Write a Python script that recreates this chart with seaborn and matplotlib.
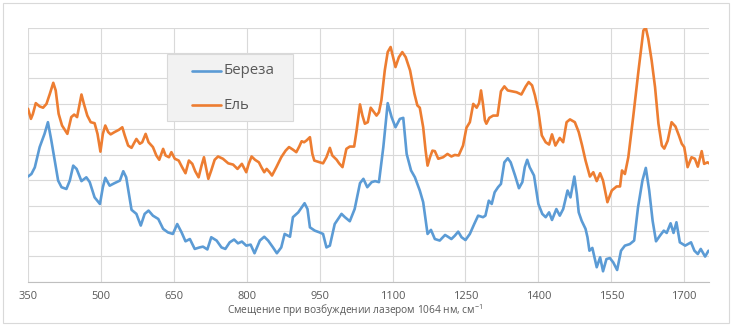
import matplotlib
matplotlib.use("Agg")
import matplotlib.pyplot as plt
from matplotlib.patches import Rectangle
import seaborn as sns
import pandas as pd

# Raman shift (cm^-1) and relative intensity for birch
birch_x = [350, 357, 364, 374, 384, 391, 398, 405, 412, 419, 429, 436, 443, 450, 460, 470, 477, 487, 498, 504,
           509, 518, 528, 539, 546, 552, 563, 573, 582, 590, 598, 607, 618, 628, 638, 648, 657, 666, 674, 683,
           693, 703, 710, 719, 727, 738, 748, 756, 765, 774, 782, 790, 799, 808, 816, 827, 836, 844, 854, 862,
           871, 878, 889, 895, 906, 919, 925, 930, 940, 950, 957, 964, 971, 981, 995, 1002, 1012, 1022, 1033, 1040,
           1048, 1057, 1064, 1072, 1081, 1090, 1098, 1106, 1115, 1122, 1129, 1138, 1146, 1156, 1163, 1172, 1179, 1187, 1197, 1208,
           1214, 1221, 1228, 1235, 1242, 1250, 1259, 1268, 1276, 1286, 1291, 1298, 1304, 1310, 1317, 1323, 1330, 1337, 1343, 1352,
           1360, 1367, 1372, 1377, 1382, 1391, 1400, 1408, 1415, 1422, 1428, 1437, 1444, 1451, 1460, 1466, 1474, 1479, 1483, 1489,
           1497, 1501, 1505, 1511, 1520, 1527, 1533, 1540, 1547, 1554, 1562, 1570, 1578, 1588, 1597, 1605, 1614, 1621, 1628, 1635,
           1642, 1650, 1658, 1664, 1672, 1678, 1684, 1691, 1702, 1714, 1721, 1728, 1734, 1743, 1750]
birch_y = [4.14, 4.24, 4.5, 5.3, 5.82, 6.28, 5.56, 4.77, 3.98, 3.72, 3.65, 3.98, 4.57, 4.44, 3.96, 4.11, 3.92, 3.32, 3.06, 3.72,
           4.09, 3.78, 3.88, 3.98, 4.35, 4.11, 2.83, 2.67, 2.21, 2.67, 2.8, 2.6, 2.47, 2.08, 1.94, 1.88, 2.27, 1.94, 1.59, 1.68,
           1.29, 1.35, 1.38, 1.27, 1.75, 1.62, 1.35, 1.29, 1.55, 1.66, 1.51, 1.58, 1.42, 1.46, 1.12, 1.62, 1.77, 1.62, 1.35, 1.12,
           1.35, 1.88, 1.77, 2.54, 2.73, 3.09, 2.86, 2.14, 2.01, 1.94, 1.88, 1.35, 1.42, 2.27, 2.67, 2.54, 2.38, 2.86, 3.88, 4.05,
           3.72, 3.92, 3.96, 3.92, 5.3, 7.03, 6.48, 6.08, 6.41, 6.45, 5.03, 4.38, 4.11, 3.59, 3.13, 1.88, 2.04, 1.68, 1.62, 1.84,
           1.77, 1.68, 1.81, 1.97, 1.75, 1.64, 1.88, 2.27, 2.6, 2.54, 2.6, 3.19, 3.06, 3.52, 3.72, 3.85, 4.7, 4.86, 4.7, 4.18,
           3.68, 3.92, 4.51, 4.8, 4.51, 4.18, 3.06, 2.67, 2.54, 2.73, 2.43, 2.86, 2.6, 2.86, 3.59, 3.32, 4.14, 3.46, 2.73, 2.4,
           2.08, 1.75, 1.22, 1.33, 0.57, 0.96, 0.41, 0.89, 0.93, 0.76, 0.46, 1.22, 1.42, 1.48, 1.62, 2.93, 3.98, 4.48, 3.59, 2.4,
           1.59, 1.81, 2.01, 1.92, 2.3, 1.92, 2.34, 1.55, 1.42, 1.55, 1.22, 1.09, 1.29, 0.99, 1.22]

# Raman shift (cm^-1) and relative intensity for spruce
spruce_x = [350, 356, 360, 366, 374, 381, 388, 395, 402, 407, 413, 420, 431, 439, 445, 451, 460, 465, 472, 479,
            487, 493, 499, 504, 509, 515, 520, 528, 537, 544, 549, 556, 563, 568, 573, 580, 585, 592, 598, 607,
            614, 620, 628, 633, 640, 645, 652, 660, 667, 674, 681, 688, 694, 701, 707, 712, 716, 721, 727, 734,
            741, 751, 762, 772, 781, 790, 799, 804, 810, 817, 825, 830, 836, 841, 847, 852, 861, 871, 880, 887,
            895, 902, 908, 913, 918, 923, 930, 935, 939, 950, 957, 964, 971, 976, 985, 990, 997, 1002, 1005, 1012,
            1021, 1026, 1033, 1038, 1043, 1049, 1055, 1062, 1067, 1072, 1077, 1084, 1090, 1096, 1101, 1106, 1113, 1120, 1127, 1136,
            1145, 1151, 1156, 1163, 1168, 1172, 1177, 1182, 1187, 1194, 1204, 1213, 1221, 1228, 1236, 1245, 1252, 1259, 1266, 1273,
            1278, 1282, 1286, 1290, 1293, 1299, 1307, 1316, 1323, 1330, 1337, 1345, 1355, 1365, 1374, 1380, 1387, 1393, 1400, 1407,
            1415, 1422, 1428, 1435, 1444, 1451, 1458, 1465, 1475, 1483, 1490, 1497, 1506, 1513, 1520, 1527, 1533, 1542, 1551, 1561,
            1568, 1572, 1578, 1585, 1595, 1606, 1616, 1621, 1626, 1633, 1640, 1647, 1654, 1659, 1666, 1674, 1682, 1689, 1695, 1700,
            1707, 1715, 1722, 1728, 1736, 1741, 1748, 1751]
spruce_y = [6.81, 6.41, 6.6, 7.03, 6.9, 6.85, 7.0, 7.4, 7.83, 7.53, 6.61, 6.15, 5.82, 6.48, 6.58, 6.48, 7.37, 7.0, 6.54, 6.28,
            6.24, 5.82, 5.12, 5.82, 6.15, 5.89, 5.8, 5.89, 5.98, 6.08, 5.76, 5.36, 5.27, 5.45, 5.62, 5.43, 5.49, 5.82, 5.49, 5.3,
            4.97, 4.8, 5.23, 4.97, 4.9, 5.1, 4.84, 4.77, 4.51, 4.27, 4.77, 4.64, 4.35, 4.11, 4.57, 4.9, 4.51, 4.05, 4.38, 4.8,
            4.93, 4.84, 4.66, 4.61, 4.44, 4.64, 4.31, 4.64, 4.93, 4.8, 4.7, 4.51, 4.31, 4.44, 4.31, 4.18, 4.51, 4.9, 5.16, 5.3,
            5.2, 5.1, 5.32, 5.53, 5.49, 5.56, 5.69, 5.03, 4.77, 4.7, 4.66, 4.9, 5.27, 4.97, 4.8, 4.66, 4.51, 4.97, 5.23, 5.32,
            5.32, 5.95, 6.98, 6.54, 6.22, 6.28, 6.85, 6.67, 6.54, 6.67, 7.14, 8.32, 9.04, 9.24, 8.84, 8.45, 8.84, 9.04, 8.84, 8.32,
            7.4, 6.94, 6.85, 6.08, 5.16, 4.57, 4.9, 5.16, 5.14, 4.84, 4.9, 5.03, 4.93, 4.99, 4.97, 5.36, 6.06, 6.28, 7.0, 6.85,
            7.03, 7.53, 7.0, 6.35, 6.22, 6.45, 6.54, 6.54, 7.5, 7.69, 7.53, 7.5, 7.46, 7.37, 7.69, 7.86, 7.73, 7.33, 6.71, 5.76,
            5.49, 5.4, 5.8, 5.36, 5.66, 5.49, 6.28, 6.39, 6.28, 5.89, 5.36, 4.77, 4.14, 4.31, 3.96, 4.27, 3.98, 3.13, 3.59, 3.75,
            3.75, 4.38, 4.24, 4.9, 6.48, 8.32, 9.89, 10.0, 9.57, 8.71, 7.66, 6.22, 5.36, 5.24, 5.55, 6.28, 6.11, 5.76, 5.43, 5.3,
            4.51, 4.9, 4.84, 4.53, 5.14, 4.64, 4.7, 4.66]

series_names = ["Береза", "Ель"]
x_ticks = [350, 500, 650, 800, 950, 1100, 1250, 1400, 1550, 1700]
x_label = "Смещение при возбуждении лазером 1064 нм, см$^{-1}$"

df = pd.concat([
    pd.DataFrame({"shift": birch_x, "intensity": birch_y, "wood": series_names[0]}),
    pd.DataFrame({"shift": spruce_x, "intensity": spruce_y, "wood": series_names[1]}),
], ignore_index=True)

sns.set_theme(style="white")
plt.rcParams["font.family"] = ["Open Sans", "DejaVu Sans"]
plt.rcParams["mathtext.fontset"] = "custom"
plt.rcParams["mathtext.rm"] = "Open Sans"
plt.rcParams["mathtext.it"] = "Open Sans"

W, H = 731, 327
fig = plt.figure(figsize=(W / 100, H / 100), dpi=100)
ax = fig.add_axes([28 / W, 1 - 281.7 / H, (709 - 28) / W, (281.7 - 27.7) / H])

palette = {"Береза": "#5B9BD5", "Ель": "#ED7D31"}
sns.lineplot(data=df, x="shift", y="intensity", hue="wood", palette=palette,
             estimator=None, sort=False, linewidth=1.9, ax=ax, legend=False, zorder=3)
for line in ax.get_lines():
    line.set_solid_joinstyle("round")
    line.set_solid_capstyle("round")

ax.set_xlim(350, 1751)
ax.set_ylim(0, 10)
ax.set_xticks(x_ticks)
ax.set_xticklabels([str(t) for t in x_ticks])
ax.set_yticks(range(0, 11))
ax.set_yticklabels([])
ax.tick_params(axis="x", length=0, pad=6.5, labelsize=8, labelcolor="#595959")
ax.tick_params(axis="y", length=0)
ax.grid(True, color="#D9D9D9", linewidth=0.8)
ax.set_axisbelow(True)
for side in ["left", "right", "top"]:
    ax.spines[side].set_visible(False)
ax.spines["bottom"].set_color("#BFBFBF")
ax.spines["bottom"].set_linewidth(0.8)
ax.set_xlabel("")
ax.set_ylabel("")

fig.text(355 / W, 1 - 314 / H, x_label, ha="center", va="baseline", fontsize=7.3, color="#595959")

# legend panel
px = lambda x: x / W
py = lambda y: 1 - y / H
fig.patches.append(Rectangle((px(167.3), py(121)), px(293.3) - px(167.3), py(54.3) - py(121),
                             transform=fig.transFigure, facecolor="#F2F2F2", edgecolor="#D9D9D9",
                             linewidth=0.8, zorder=4))
for name, yc in zip(series_names, [71, 105]):
    fig.add_artist(plt.Line2D([px(192.3), px(220.7)], [py(yc), py(yc)], transform=fig.transFigure,
                              color=palette[name], linewidth=1.9, zorder=5))
    fig.text(px(223.3), py(yc), name, ha="left", va="center", fontsize=10.8, color="#595959", zorder=5)

# chart-area border
fig.patches.append(Rectangle((px(3.3), py(322.7)), px(729.3) - px(3.3), py(3.3) - py(322.7),
                             transform=fig.transFigure, facecolor="none", edgecolor="#D9D9D9",
                             linewidth=0.8, zorder=1))

fig.savefig("out.png", dpi=100)
